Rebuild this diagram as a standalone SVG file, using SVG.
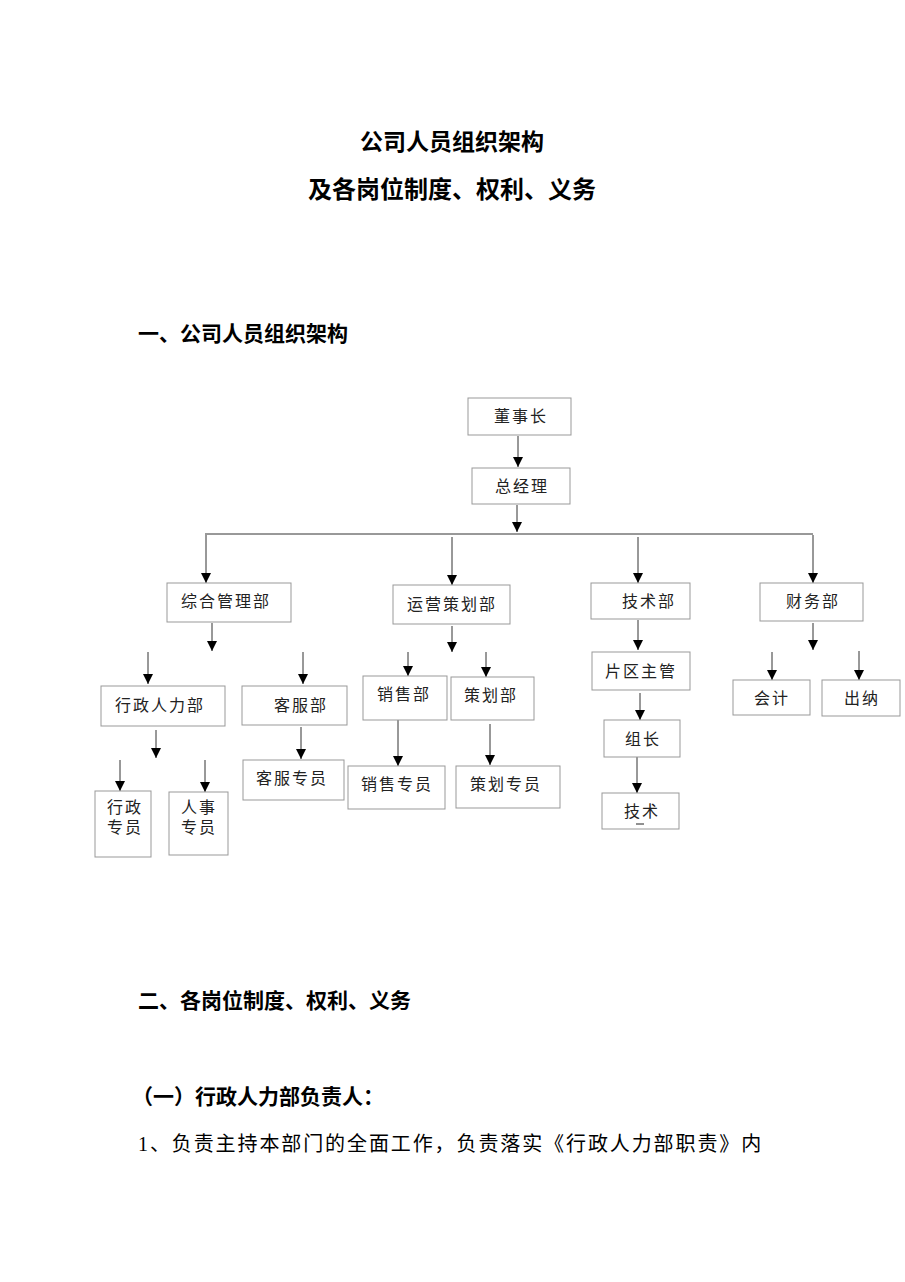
<svg xmlns="http://www.w3.org/2000/svg" width="905" height="1282" viewBox="0 0 905 1282">
<style>
.b{fill:#fff;stroke:#999;stroke-width:1}
.t{font-family:"Liberation Sans","Noto Sans CJK SC",sans-serif;font-size:16px;fill:#222;letter-spacing:2px}
.h{font-family:"Liberation Serif","Noto Sans CJK SC",serif;font-weight:bold;fill:#000}
.c{stroke:#333;stroke-width:1;fill:none;marker-end:url(#a)}
</style>
<defs><marker id="a" markerWidth="10" markerHeight="10" refX="10" refY="5" orient="auto" markerUnits="userSpaceOnUse" viewBox="0 0 10 10"><path d="M0,0L10,5L0,10z" fill="#000"/></marker></defs>
<text class="h" x="452" y="150" font-size="23" text-anchor="middle">公司人员组织架构</text>
<text class="h" x="452" y="198" font-size="24" text-anchor="middle">及各岗位制度、权利、义务</text>
<text class="h" x="138" y="341" font-size="21">一、公司人员组织架构</text>
<text class="h" x="138" y="1008" font-size="21">二、各岗位制度、权利、义务</text>
<text class="h" x="132" y="1104" font-size="21">（一）行政人力部负责人：</text>
<text x="138" y="1151" font-size="20" letter-spacing="1.9" font-family="Liberation Serif,'Noto Sans CJK SC',serif" fill="#000">1、负责主持本部门的全面工作，负责落实《行政人力部职责》内</text>
<g id="connectors">
<line x1="518" y1="436" x2="518" y2="467" class="c"/>
<line x1="517" y1="505" x2="517" y2="532" class="c"/>
<line x1="205" y1="534" x2="813" y2="534" stroke="#333"/>
<line x1="206" y1="535" x2="206" y2="583" class="c"/>
<line x1="452" y1="537" x2="452" y2="585" class="c"/>
<line x1="638" y1="537" x2="638" y2="583" class="c"/>
<line x1="813" y1="535" x2="813" y2="583" class="c"/>
<line x1="212" y1="623" x2="212" y2="651" class="c"/>
<line x1="148" y1="652" x2="148" y2="684" class="c"/>
<line x1="303" y1="652" x2="303" y2="684" class="c"/>
<line x1="156" y1="730" x2="156" y2="758" class="c"/>
<line x1="120" y1="760" x2="120" y2="791" class="c"/>
<line x1="205" y1="760" x2="205" y2="792" class="c"/>
<line x1="301" y1="727" x2="301" y2="759" class="c"/>
<line x1="452" y1="626" x2="452" y2="652" class="c"/>
<line x1="408" y1="652" x2="408" y2="676" class="c"/>
<line x1="486" y1="652" x2="486" y2="677" class="c"/>
<line x1="398" y1="720" x2="398" y2="766" class="c"/>
<line x1="490" y1="724" x2="490" y2="765" class="c"/>
<line x1="638" y1="620" x2="638" y2="650" class="c"/>
<line x1="640" y1="693" x2="640" y2="720" class="c"/>
<line x1="637" y1="757" x2="637" y2="793" class="c"/>
<line x1="813" y1="623" x2="813" y2="650" class="c"/>
<line x1="772" y1="652" x2="772" y2="680" class="c"/>
<line x1="859" y1="651" x2="859" y2="680" class="c"/>
</g>
<g id="n1"><rect class="b" x="468" y="398" width="103" height="37"/><text class="t" x="521" y="422" text-anchor="middle">董事长</text></g>
<g id="n2"><rect class="b" x="472" y="468" width="98" height="36"/><text class="t" x="522" y="492" text-anchor="middle">总经理</text></g>
<g id="n3"><rect class="b" x="167" y="583" width="124" height="39"/><text class="t" x="226" y="607" text-anchor="middle">综合管理部</text></g>
<g id="n4"><rect class="b" x="393" y="585" width="117" height="39"/><text class="t" x="452" y="610" text-anchor="middle">运营策划部</text></g>
<g id="n5"><rect class="b" x="591" y="583" width="99" height="36"/><text class="t" x="649" y="607" text-anchor="middle">技术部</text></g>
<g id="n6"><rect class="b" x="760" y="583" width="103" height="38"/><text class="t" x="813" y="607" text-anchor="middle">财务部</text></g>
<g id="n7"><rect class="b" x="101" y="686" width="124" height="40"/><text class="t" x="160" y="711" text-anchor="middle">行政人力部</text></g>
<g id="n8"><rect class="b" x="242" y="686" width="105" height="39"/><text class="t" x="301" y="711" text-anchor="middle">客服部</text></g>
<g id="n9"><rect class="b" x="95" y="791" width="56" height="66"/><text class="t" x="125" y="813" text-anchor="middle">行政</text><text class="t" x="125" y="833" text-anchor="middle">专员</text></g>
<g id="n10"><rect class="b" x="169" y="792" width="59" height="63"/><text class="t" x="199" y="813" text-anchor="middle">人事</text><text class="t" x="199" y="833" text-anchor="middle">专员</text></g>
<g id="n11"><rect class="b" x="243" y="760" width="101" height="40"/><text class="t" x="292" y="784" text-anchor="middle">客服专员</text></g>
<g id="n12"><rect class="b" x="363" y="676" width="84" height="44"/><text class="t" x="404" y="700" text-anchor="middle">销售部</text></g>
<g id="n13"><rect class="b" x="451" y="677" width="83" height="43"/><text class="t" x="491" y="701" text-anchor="middle">策划部</text></g>
<g id="n14"><rect class="b" x="348" y="766" width="97" height="43"/><text class="t" x="397" y="790" text-anchor="middle">销售专员</text></g>
<g id="n15"><rect class="b" x="456" y="766" width="104" height="42"/><text class="t" x="506" y="790" text-anchor="middle">策划专员</text></g>
<g id="n16"><rect class="b" x="592" y="652" width="98" height="38"/><text class="t" x="641" y="677" text-anchor="middle">片区主管</text></g>
<g id="n17"><rect class="b" x="604" y="720" width="76" height="37"/><text class="t" x="643" y="745" text-anchor="middle">组长</text></g>
<g id="n18"><rect class="b" x="602" y="793" width="77" height="36"/><text class="t" x="642" y="817" text-anchor="middle">技术</text><line x1="636" y1="824" x2="644" y2="824" stroke="#222"/></g>
<g id="n19"><rect class="b" x="733" y="680" width="77" height="35"/><text class="t" x="772" y="704" text-anchor="middle">会计</text></g>
<g id="n20"><rect class="b" x="822" y="680" width="78" height="36"/><text class="t" x="862" y="704" text-anchor="middle">出纳</text></g>
</svg>
